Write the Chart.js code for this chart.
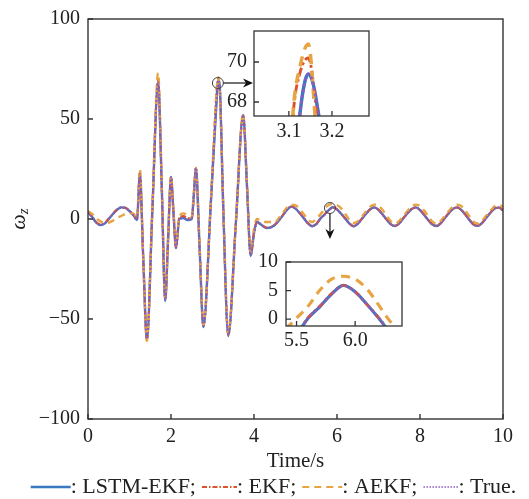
<!DOCTYPE html>
<html>
<head>
<meta charset="utf-8">
<script src="https://cdn.jsdelivr.net/npm/chart.js@4"></script>
<style>
  body { margin: 0; background: #fff; }
  #wrap { position: relative; width: 529px; height: 499px; }
  canvas { position: absolute; }
</style>
</head>
<body>
<div id="wrap">
  <canvas id="main" width="529" height="499" style="left:0;top:0"></canvas>
  <canvas id="ins1" width="160" height="125" style="left:214px;top:26px"></canvas>
  <canvas id="ins2" width="157" height="105" style="left:250px;top:250px"></canvas>
</div>
<script>
// time axis (s), non-uniform where the signal moves fast
const timeS = [0, 0.1, 0.2, 0.3, 0.4, 0.5, 0.6, 0.7, 0.8, 0.9, 1.0, 1.1, 1.18, 1.25, 1.33, 1.42, 1.55, 1.69, 1.78, 1.86,
  1.93, 2.0, 2.06, 2.12, 2.2, 2.3, 2.4, 2.5, 2.55, 2.6, 2.69, 2.78, 2.96, 3.11, 3.125, 3.145, 3.165, 3.18, 3.26, 3.38,
  3.56, 3.74, 3.83, 3.92, 4.0, 4.07, 4.15, 4.3, 4.4,
  4.5, 4.6, 4.7, 4.8, 4.9, 5.0, 5.1, 5.2, 5.3, 5.4, 5.5, 5.6, 5.7, 5.8, 5.9, 6.0, 6.1, 6.2, 6.3, 6.4,
  6.5, 6.6, 6.7, 6.8, 6.9, 7.0, 7.1, 7.2, 7.3, 7.4, 7.5, 7.6, 7.7, 7.8, 7.9, 8.0, 8.1, 8.2, 8.3, 8.4,
  8.5, 8.6, 8.7, 8.8, 8.9, 9.0, 9.1, 9.2, 9.3, 9.4, 9.5, 9.6, 9.7, 9.8, 9.9, 10.0];

const trueV = [3.5, 1.0, -1.8, -3.0, -2.2, 0.0, 2.5, 4.6, 5.8, 5.6, 4.0, 1.8, -0.5, 22.5, -19, -60, 4, 68.5, 14, -40.5,
  -10, 21, 3, -14.5, 0, 0.5, -0.5, 0, 12, 25.5, -15, -53.5, 8, 63.4, 67.3, 69.4, 67.9, 64.6, 5, -58,
  -3, 52, 17, -18, -7, -1.5, -2.5, -4.5, -4.2,
  -3.0, -0.8, 2.0, 4.7, 6.2, 5.2, 3.0, 0.4, -2.2, -3.6, -2.6, 0.2, 2.2, 4.4, 5.9, 4.8, 2.6, 0.2, -2.3, -3.6,
  -2.4, 0.1, 2.6, 4.9, 5.8, 4.6, 2.2, -0.4, -2.7, -3.5, -2.2, 0.4, 2.9, 5.0, 5.8, 4.5, 2.0, -0.6, -2.8, -3.5,
  -2.1, 0.5, 3.0, 5.1, 5.8, 4.4, 2.0, -0.7, -2.9, -3.4, -1.9, 0.7, 3.2, 5.3, 5.7, 4.3];

const lstmV = [3.5, 1.0, -1.8, -3.0, -2.3, 0.0, 2.5, 4.6, 5.8, 5.6, 4.0, 1.8, -0.5, 22.5, -19, -60.5, 4, 68.5, 14, -41,
  -10, 21, 3, -14.5, 0, 0.5, -0.5, 0, 12, 25.5, -15, -54, 8, 63.3, 67.3, 69.4, 67.9, 64.6, 5, -58.5,
  -3, 52, 17, -18.5, -7, -1.5, -2.5, -4.5, -4.2,
  -3.0, -0.8, 2.0, 4.7, 6.2, 5.2, 3.0, 0.4, -2.2, -3.6, -2.6, 0.2, 2.2, 4.4, 5.9, 4.8, 2.6, 0.2, -2.3, -3.6,
  -2.4, 0.1, 2.6, 4.9, 5.8, 4.6, 2.2, -0.4, -2.7, -3.5, -2.2, 0.4, 2.9, 5.0, 5.8, 4.5, 2.0, -0.6, -2.8, -3.5,
  -2.1, 0.5, 3.0, 5.1, 5.8, 4.4, 2.0, -0.7, -2.9, -3.4, -1.9, 0.7, 3.2, 5.3, 5.7, 4.3];

const ekfV = [3.8, 1.3, -1.5, -2.8, -2.0, 0.2, 2.6, 4.7, 5.8, 5.6, 4.0, 1.9, -0.3, 23, -19, -60.5, 4, 69.5, 14, -40,
  -10, 21, 3.5, -14, 0.8, 1.5, 0.5, 0.3, 12, 25.5, -15, -53.5, 8.5, 67.4, 69.4, 70.2, 67.5, 64.5, 5, -58,
  -3, 52, 17, -18, -7, -1.2, -2.3, -4.3, -4.0,
  -2.9, -0.7, 2.1, 4.8, 6.2, 5.2, 3.0, 0.5, -2.1, -3.5, -2.5, 0.3, 2.3, 4.5, 5.9, 4.8, 2.6, 0.3, -2.2, -3.5,
  -2.3, 0.2, 2.7, 4.9, 5.8, 4.6, 2.2, -0.3, -2.6, -3.4, -2.1, 0.5, 2.9, 5.0, 5.8, 4.5, 2.1, -0.5, -2.7, -3.4,
  -2.0, 0.6, 3.1, 5.1, 5.8, 4.4, 2.1, -0.6, -2.8, -3.3, -1.8, 0.8, 3.3, 5.3, 5.7, 4.4];

const aekfV = [4.0, 2.5, 0.5, -1.2, -2.0, -1.8, -0.8, 0.5, 1.5, 2.5, 3.0, 2.5, 0.5, 25, -19, -61, 5, 73, 15, -40,
  -9, 21.5, 4, -13, 1.5, 2.8, 2.0, 1.0, 13, 25.5, -14, -53, 9, 67.6, 69.7, 70.9, 66.0, 62.0, 5.5, -57.5,
  -2.5, 52.5, 18, -17, -5, 0, -0.5, -1.5, -1.5,
  -1.8, 0.5, 3.2, 5.8, 7.2, 6.8, 5.0, 2.4, -0.3, -1.5, 0.2, 2.3, 5.1, 7.0, 7.5, 7.0, 5.3, 2.5, -0.4, -2.0,
  -1.2, 1.2, 3.8, 6.2, 7.2, 6.6, 4.5, 1.5, -1.2, -2.2, -1.0, 1.5, 4.0, 6.3, 7.2, 6.5, 4.2, 1.3, -1.3, -2.3,
  -0.9, 1.6, 4.1, 6.3, 7.1, 6.4, 4.0, 1.1, -1.5, -2.3, -0.8, 1.8, 4.2, 6.4, 7.0, 6.0];

const seriesNames = ['LSTM-EKF', 'EKF', 'AEKF', 'True'];
const seriesColors = ['#3b78c2', '#d8542c', '#e8a443', '#8c5cbf'];

const xTicksMain = [0, 2, 4, 6, 8, 10];
const yTicksMain = [-100, -50, 0, 50, 100];
const xTicksIn1 = [3.1, 3.2];
const yTicksIn1 = [68, 70];
const xTicksIn2 = [5.5, 6.0];
const yTicksIn2 = [0, 5, 10];

const FONT = 'Liberation Serif';
const AX = '#333';
Chart.defaults.font.family = FONT;

const pts = vals => timeS.map((t, i) => ({ x: t, y: vals[i] }));

// first dataset is painted last, so True sits on top
function makeSets(k) {
  const base = { pointRadius: 0, fill: false, cubicInterpolationMode: 'monotone', borderCapStyle: 'butt' };
  return [
    { ...base, label: seriesNames[3], data: pts(trueV), borderColor: seriesColors[3], borderWidth: 2 * k, borderDash: [2 * k, 2 * k] },
    { ...base, label: seriesNames[2], data: pts(aekfV), borderColor: seriesColors[2], borderWidth: 2.4 * k, borderDash: [7 * k, 5 * k] },
    { ...base, label: seriesNames[1], data: pts(ekfV), borderColor: seriesColors[1], borderWidth: 2 * k, borderDash: [6 * k, 2 * k, 2 * k, 2 * k] },
    { ...base, label: seriesNames[0], data: pts(lstmV), borderColor: seriesColors[0], borderWidth: 2.4 * k }
  ];
}

// white plot area, box and inward ticks
const frame = {
  id: 'frame',
  beforeDatasetsDraw(c) {
    const a = c.chartArea;
    c.ctx.save();
    c.ctx.fillStyle = '#fff';
    c.ctx.fillRect(a.left, a.top, a.right - a.left, a.bottom - a.top);
    c.ctx.restore();
  },
  afterDatasetsDraw(c, args, o) {
    const { ctx, chartArea: a, scales: { x, y } } = c;
    ctx.save();
    ctx.strokeStyle = AX;
    ctx.lineWidth = o.lw;
    ctx.setLineDash([]);
    ctx.strokeRect(a.left, a.top, a.right - a.left, a.bottom - a.top);
    ctx.beginPath();
    x.ticks.forEach(t => {
      const px = x.getPixelForValue(t.value);
      ctx.moveTo(px, a.bottom); ctx.lineTo(px, a.bottom - o.len);
    });
    y.ticks.forEach(t => {
      const py = y.getPixelForValue(t.value);
      ctx.moveTo(a.left, py); ctx.lineTo(a.left + o.len, py);
    });
    ctx.stroke();
    ctx.restore();
  }
};

const setTicks = arr => s => { s.ticks = arr.map(v => ({ value: v })); };

function axes(o) {
  const tickFont = { family: FONT, size: 20 };
  return {
    x: {
      type: 'linear', min: o.xmin, max: o.xmax,
      grid: { display: false, drawTicks: false }, border: { display: false },
      afterBuildTicks: setTicks(o.xt),
      afterFit: s => { s.height = o.xh; s.paddingLeft = 0; s.paddingRight = 0; },
      ticks: { font: tickFont, color: '#222', padding: o.xpad, maxRotation: 0, autoSkip: false, callback: o.xfmt }
    },
    y: {
      type: 'linear', min: o.ymin, max: o.ymax,
      grid: { display: false, drawTicks: false }, border: { display: false },
      afterBuildTicks: setTicks(o.yt),
      afterFit: s => { s.width = o.yw; s.paddingTop = 0; s.paddingBottom = 0; },
      ticks: { font: tickFont, color: '#222', padding: o.ypad, autoSkip: false, callback: o.yfmt }
    }
  };
}

function arrow(ctx, x1, y1, x2, y2) {
  const ang = Math.atan2(y2 - y1, x2 - x1), L = 10, W = 4.5;
  ctx.beginPath();
  ctx.moveTo(x1, y1);
  ctx.lineTo(x2 - L * 0.7 * Math.cos(ang), y2 - L * 0.7 * Math.sin(ang));
  ctx.stroke();
  ctx.beginPath();
  ctx.moveTo(x2, y2);
  ctx.lineTo(x2 - L * Math.cos(ang) - W * Math.sin(ang), y2 - L * Math.sin(ang) + W * Math.cos(ang));
  ctx.lineTo(x2 - L * 0.7 * Math.cos(ang), y2 - L * 0.7 * Math.sin(ang));
  ctx.lineTo(x2 - L * Math.cos(ang) + W * Math.sin(ang), y2 - L * Math.sin(ang) - W * Math.cos(ang));
  ctx.closePath();
  ctx.fill();
}

// zoom marks, axis titles and the legend row
const annot = {
  id: 'annot',
  afterDraw(c) {
    const { ctx, chartArea: a, scales: { x, y } } = c;
    ctx.save();
    ctx.strokeStyle = '#444'; ctx.fillStyle = '#111'; ctx.lineWidth = 1;
    const c1x = x.getPixelForValue(3.13), c1y = y.getPixelForValue(68);
    ctx.beginPath(); ctx.arc(c1x, c1y, 5.5, 0, Math.PI * 2); ctx.stroke();
    ctx.strokeStyle = '#111'; ctx.lineWidth = 1.2;
    arrow(ctx, c1x + 5.5, c1y, 253, c1y);
    const c2x = x.getPixelForValue(5.83), c2y = y.getPixelForValue(5.5);
    ctx.strokeStyle = '#444'; ctx.lineWidth = 1;
    ctx.beginPath(); ctx.arc(c2x, c2y, 5.5, 0, Math.PI * 2); ctx.stroke();
    ctx.strokeStyle = '#111'; ctx.lineWidth = 1.2;
    arrow(ctx, c2x, c2y + 5.5, c2x, 239);

    // x title
    ctx.fillStyle = '#222';
    ctx.font = '21px "Liberation Serif"';
    ctx.textAlign = 'center'; ctx.textBaseline = 'middle';
    ctx.fillText('Time/s', (a.left + a.right) / 2, 461);

    // y title: omega with subscript z
    ctx.save();
    ctx.translate(19, (a.top + a.bottom) / 2);
    ctx.rotate(-Math.PI / 2);
    ctx.font = 'italic 22px "Liberation Serif"';
    const wo = ctx.measureText('\u03c9').width;
    ctx.font = 'italic 15px "Liberation Serif"';
    const wz = ctx.measureText('z').width;
    ctx.textAlign = 'left';
    ctx.font = 'italic 22px "Liberation Serif"';
    ctx.fillText('\u03c9', -(wo + wz) / 2, 0);
    ctx.font = 'italic 15px "Liberation Serif"';
    ctx.fillText('z', -(wo + wz) / 2 + wo, 5);
    ctx.restore();

    // legend
    const styles = [
      { w: 2.5, d: [] },
      { w: 2.2, d: [5, 2, 1.5, 2] },
      { w: 2.2, d: [7, 5] },
      { w: 1.6, d: [1.5, 1.5] }
    ];
    const lens = [40, 35, 40, 35];
    const texts = seriesNames.map((n, i) => ': ' + n + (i === 3 ? '.' : ';'));
    ctx.font = '22px "Liberation Serif"';
    ctx.textAlign = 'left';
    const gap = 6;
    let total = 0;
    texts.forEach((t, i) => { total += lens[i] + ctx.measureText(t).width + (i < 3 ? gap : 0); });
    let lx = 273.5 - total / 2;
    const ly = 487;
    texts.forEach((t, i) => {
      ctx.strokeStyle = seriesColors[i];
      ctx.lineWidth = styles[i].w;
      ctx.setLineDash(styles[i].d);
      ctx.beginPath(); ctx.moveTo(lx, ly); ctx.lineTo(lx + lens[i], ly); ctx.stroke();
      ctx.setLineDash([]);
      lx += lens[i];
      ctx.fillStyle = '#222';
      ctx.fillText(t, lx, ly);
      lx += ctx.measureText(t).width + gap;
    });
    ctx.restore();
  }
};

const common = { responsive: false, animation: false, events: [] };

new Chart(document.getElementById('main'), {
  type: 'line',
  data: { datasets: makeSets(1) },
  options: {
    ...common,
    layout: { padding: { top: 19, right: 26, left: 0, bottom: 0 } },
    plugins: { legend: { display: false }, tooltip: { enabled: false }, frame: { len: 5, lw: 1.4 } },
    scales: axes({
      xmin: 0, xmax: 10, ymin: -100, ymax: 100, xt: xTicksMain, yt: yTicksMain,
      xh: 80, yw: 88, xpad: 6, ypad: 8,
      xfmt: v => String(v), yfmt: v => String(v).replace('-', '\u2212')
    })
  },
  plugins: [frame, annot]
});

new Chart(document.getElementById('ins1'), {
  type: 'line',
  data: { datasets: makeSets(1.45) },
  options: {
    ...common,
    layout: { padding: { top: 5, right: 5, left: 0, bottom: 0 } },
    plugins: { legend: { display: false }, tooltip: { enabled: false }, frame: { len: 5, lw: 1.3 } },
    scales: axes({
      xmin: 3.019, xmax: 3.286, ymin: 67.3, ymax: 71.55, xt: xTicksIn1, yt: yTicksIn1,
      xh: 35, yw: 40, xpad: 4, ypad: 7,
      xfmt: v => v.toFixed(1), yfmt: v => String(v)
    })
  },
  plugins: [frame]
});

new Chart(document.getElementById('ins2'), {
  type: 'line',
  data: { datasets: makeSets(1.3) },
  options: {
    ...common,
    layout: { padding: { top: 12, right: 5, left: 0, bottom: 0 } },
    plugins: { legend: { display: false }, tooltip: { enabled: false }, frame: { len: 5, lw: 1.3 } },
    scales: axes({
      xmin: 5.41, xmax: 6.4, ymin: -1.2, ymax: 10, xt: xTicksIn2, yt: yTicksIn2,
      xh: 29, yw: 36, xpad: 3, ypad: 8,
      xfmt: v => v.toFixed(1), yfmt: v => String(v)
    })
  },
  plugins: [frame]
});
</script>
</body>
</html>
